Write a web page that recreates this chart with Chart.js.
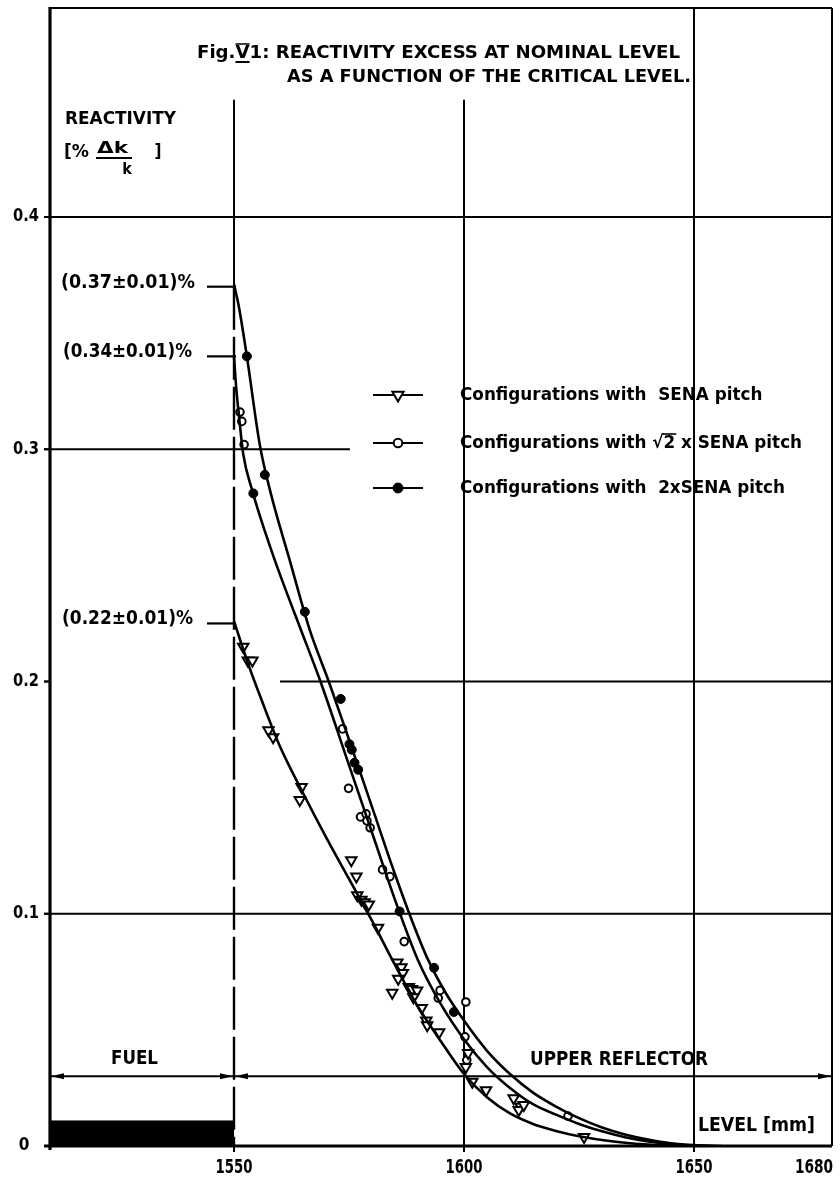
<!DOCTYPE html>
<html>
<head>
<meta charset="utf-8">
<script src="https://cdn.jsdelivr.net/npm/chart.js@4.4.1/dist/chart.umd.min.js"></script>
<style>
  html, body { margin: 0; padding: 0; background: #fff; }
  canvas { display: block; }
</style>
</head>
<body>
<canvas id="chart" width="840" height="1179"></canvas>
<script>
// ---- axes ----
const levelMin = 1510, levelMax = 1680;           // critical level [mm]
const reactMin = 0, reactMax = 0.49;              // reactivity [% dk/k]
const levelTicks = [1550, 1600, 1650, 1680];
const reactTicks = [0, 0.1, 0.2, 0.3, 0.4];
const reactTickLabels = ['0', '0.1', '0.2', '0.3', '0.4'];

// ---- fitted curves ----
const senaCurveLevel  = [1550, 1553, 1556, 1560, 1565, 1570, 1575, 1580, 1585, 1590, 1595, 1600, 1605, 1610, 1615, 1620, 1625, 1630, 1635, 1640, 1646];
const senaCurveReact  = [0.226, 0.208, 0.192, 0.172, 0.152, 0.133, 0.115, 0.097, 0.078, 0.060, 0.045, 0.031, 0.021, 0.014, 0.0095, 0.0065, 0.0042, 0.0026, 0.0014, 0.0006, 0];

const root2CurveLevel = [1550, 1550.5, 1551, 1552, 1554, 1557, 1560, 1564.6, 1568.8, 1575, 1580, 1585, 1590, 1595, 1600, 1605, 1610, 1615, 1620, 1625, 1630, 1635, 1640, 1645, 1652];
const root2CurveReact = [0.340, 0.326, 0.316, 0.298, 0.282, 0.263, 0.246, 0.222, 0.200, 0.164, 0.135, 0.106, 0.080, 0.061, 0.046, 0.034, 0.025, 0.018, 0.0135, 0.0095, 0.0063, 0.0038, 0.002, 0.0008, 0];

const twoCurveLevel   = [1550, 1551, 1552.8, 1555.6, 1558, 1562, 1566.5, 1570.6, 1575, 1580, 1585, 1588.7, 1592, 1596, 1600, 1605, 1610, 1615, 1620, 1625, 1630, 1635, 1640, 1645, 1650, 1656];
const twoCurveReact   = [0.371, 0.362, 0.340, 0.302, 0.281, 0.253, 0.222, 0.200, 0.175, 0.146, 0.117, 0.097, 0.081, 0.066, 0.054, 0.041, 0.031, 0.023, 0.017, 0.012, 0.008, 0.005, 0.0028, 0.0012, 0.0004, 0];

// ---- measured configurations ----
const senaLevel  = [1552, 1553, 1554, 1557.5, 1558.5, 1564.7, 1564.3, 1575.5, 1576.6, 1576.8, 1577.7, 1578.4, 1579.3, 1581.3,
                    1585.5, 1586.4, 1586.7, 1585.7, 1584.4, 1588, 1588.7, 1589.8, 1589, 1590.8, 1591.8, 1592, 1594.6,
                    1600.9, 1600.4, 1601.8, 1604.8, 1610.8, 1612.3, 1611.9, 1613, 1626.1];
const senaReact  = [0.215, 0.209, 0.209, 0.179, 0.176, 0.1546, 0.149, 0.123, 0.116, 0.108, 0.106, 0.105, 0.104, 0.094,
                    0.079, 0.077, 0.0745, 0.072, 0.066, 0.0685, 0.0676, 0.067, 0.064, 0.0594, 0.054, 0.052, 0.049,
                    0.040, 0.034, 0.0277, 0.024, 0.0206, 0.017, 0.0155, 0.0177, 0.0039];

const root2Level = [1551.3, 1551.7, 1552.2, 1573.6, 1574.9, 1577.5, 1578.7, 1578.9, 1579.6, 1582.3, 1583.9, 1587,
                    1594.4, 1594.8, 1600.4, 1600.2, 1600.6, 1622.6];
const root2React = [0.316, 0.312, 0.302, 0.1796, 0.154, 0.1417, 0.143, 0.140, 0.137, 0.119, 0.116, 0.088,
                    0.0637, 0.067, 0.062, 0.047, 0.037, 0.0129];

const twoLevel   = [1552.8, 1554.2, 1556.7, 1565.4, 1573.2, 1575.1, 1575.6, 1576.2, 1577, 1586, 1593.5, 1597.8];
const twoReact   = [0.340, 0.281, 0.289, 0.230, 0.1925, 0.173, 0.1706, 0.165, 0.162, 0.101, 0.0767, 0.0577];

// ---- extrapolated values at the fuel top ----
const excessValues = [0.37, 0.34, 0.225];
const excessLabels = ['(0.37\u00B10.01)%', '(0.34\u00B10.01)%', '(0.22\u00B10.01)%'];

// ---- fuel / reflector zones ----
const fuelFrom = 1510, fuelTo = 1550, fuelBarHeight = 0.011;
const zoneLineReact = 0.03;

const seriesNames = ['Configurations with  SENA pitch', 'Configurations with \u221A2 x SENA pitch', 'Configurations with  2xSENA pitch'];

// -------------------------------------------------------------------------
const FONT = '"Liberation Sans Narrow", "DejaVu Sans Condensed", "Liberation Sans", sans-serif';
const INK = '#000';

function pairs(xs, ys) { return xs.map((x, i) => ({ x: x, y: ys[i] })); }

// bold text, optionally squeezed or stretched to a given width
function txt(ctx, s, x, y, size, width, align) {
  ctx.font = 'bold ' + size + 'px ' + FONT;
  const w = ctx.measureText(s).width;
  const sx = width ? width / w : 1;
  ctx.save();
  ctx.translate(x, y);
  ctx.scale(sx, 1);
  ctx.textAlign = align || 'left';
  ctx.textBaseline = 'middle';
  ctx.fillStyle = INK;
  ctx.fillText(s, 0, 0);
  ctx.restore();
  return sx;
}

function line(ctx, x1, y1, x2, y2, w, dash) {
  ctx.save();
  ctx.strokeStyle = INK;
  ctx.lineWidth = w;
  ctx.setLineDash(dash || []);
  ctx.beginPath();
  ctx.moveTo(x1, y1);
  ctx.lineTo(x2, y2);
  ctx.stroke();
  ctx.restore();
}

function arrow(ctx, tipX, y, dir) {
  ctx.save();
  ctx.fillStyle = INK;
  ctx.beginPath();
  ctx.moveTo(tipX, y);
  ctx.lineTo(tipX - dir * 13, y - 3);
  ctx.lineTo(tipX - dir * 13, y + 3);
  ctx.closePath();
  ctx.fill();
  ctx.restore();
}

const markerStyles = [
  { pointStyle: 'triangle', rotation: 180, radius: 6, borderWidth: 2, backgroundColor: '#fff' },
  { pointStyle: 'circle', rotation: 0, radius: 3.8, borderWidth: 2, backgroundColor: '#fff' },
  { pointStyle: 'circle', rotation: 0, radius: 4.5, borderWidth: 1, backgroundColor: '#000' }
];

const framePlugin = {
  id: 'frame',
  beforeDraw(chart) {
    const ctx = chart.ctx;
    ctx.save();
    ctx.fillStyle = '#fff';
    ctx.fillRect(0, 0, chart.width, chart.height);
    ctx.restore();
  },
  beforeDatasetsDraw(chart) {
    const ctx = chart.ctx;
    const sx = chart.scales.x, sy = chart.scales.y;
    const X = v => sx.getPixelForValue(v), Y = v => sy.getPixelForValue(v);

    // fuel bar
    ctx.save();
    ctx.fillStyle = INK;
    ctx.fillRect(X(fuelFrom), Y(fuelBarHeight), X(fuelTo) - X(fuelFrom), Y(0) - Y(fuelBarHeight));
    ctx.restore();

    // horizontal grid
    line(ctx, X(1510) - 6, Y(0.4), X(1680), Y(0.4), 2);
    line(ctx, X(1510) - 6, Y(0.3), X(1575.2), Y(0.3), 1.8);
    line(ctx, X(1560), Y(0.2), X(1680), Y(0.2), 1.8);
    line(ctx, X(1510) - 6, Y(0.1), X(1680), Y(0.1), 1.8);
    line(ctx, X(1510) - 6, Y(0.2), X(1510), Y(0.2), 1.8);

    // vertical grid
    line(ctx, X(1550), Y(0.4505), X(1550), Y(0.37), 2);
    line(ctx, X(1550), Y(0.37), X(1550), Y(0), 2.4, [43, 7]);
    line(ctx, X(1600), Y(0.4505), X(1600), Y(0) + 6, 2);
    line(ctx, X(1650), Y(reactMax), X(1650), Y(0) + 6, 2);
    line(ctx, X(1550), Y(0), X(1550), Y(0) + 6, 2);

    // zone dimension line
    line(ctx, X(levelMin), Y(zoneLineReact), X(levelMax), Y(zoneLineReact), 2);
    arrow(ctx, X(levelMin) + 1, Y(zoneLineReact), -1);
    arrow(ctx, X(fuelTo) - 1, Y(zoneLineReact), 1);
    arrow(ctx, X(fuelTo) + 1, Y(zoneLineReact), -1);
    arrow(ctx, X(levelMax) - 1, Y(zoneLineReact), 1);

    // extrapolated excess leaders
    excessValues.forEach(v => line(ctx, X(1550) - 27, Y(v), X(1550) + 2, Y(v), 2.2));

    // frame
    const a = chart.chartArea;
    line(ctx, a.left, a.top, a.right, a.top, 2);
    line(ctx, a.right, a.top, a.right, a.bottom, 2);
    line(ctx, a.left, a.top - 1, a.left, a.bottom + 4, 3.2);
    line(ctx, a.left - 6, a.bottom, a.right, a.bottom, 3);
  },
  afterDraw(chart) {
    const ctx = chart.ctx;
    const sx = chart.scales.x, sy = chart.scales.y;
    const X = v => sx.getPixelForValue(v), Y = v => sy.getPixelForValue(v);

    // title
    const s1 = txt(ctx, 'Fig.V1: REACTIVITY EXCESS AT NOMINAL LEVEL', 197, 53, 18, 483, 'left');
    ctx.font = 'bold 18px ' + FONT;
    const vx = 197 + ctx.measureText('Fig.').width * s1;
    const vw = ctx.measureText('V').width * s1;
    line(ctx, vx, 62, vx + vw, 62, 2);
    line(ctx, vx, 44, vx + vw, 44, 1.5);
    txt(ctx, 'AS A FUNCTION OF THE CRITICAL LEVEL.', 691, 77, 18, 404, 'right');

    // y axis title
    txt(ctx, 'REACTIVITY', 65, 120, 17, 111, 'left');
    txt(ctx, '[%', 64, 153, 17, 25, 'left');
    txt(ctx, '\u0394k', 97, 149, 16, 31, 'left');
    line(ctx, 96, 158, 132, 158, 2);
    txt(ctx, 'k', 127, 170, 16, 0, 'center');
    txt(ctx, ']', 158, 153, 17, 0, 'center');

    // y ticks
    reactTicks.forEach((v, i) => {
      line(ctx, X(levelMin) - 6, Y(v), X(levelMin), Y(v), 2);
      if (reactTickLabels[i] === '0') txt(ctx, '0', 24, Y(v), 17, 0, 'center');
      else txt(ctx, reactTickLabels[i], 39, Y(v), 17, 26, 'right');
    });

    // x ticks
    levelTicks.forEach(v => {
      if (v === levelMax) txt(ctx, String(v), X(v) + 1, 1168, 19, 38, 'right');
      else txt(ctx, String(v), X(v), 1168, 19, 37, 'center');
    });

    // zone labels
    txt(ctx, 'FUEL', 111, 1059, 19, 47, 'left');
    txt(ctx, 'UPPER REFLECTOR', 530, 1060, 20, 178, 'left');
    txt(ctx, 'LEVEL [mm]', 698, 1126, 19, 117, 'left');

    // extrapolated excess labels
    const lx = [61, 63, 62], lw = [134, 129, 131];
    excessValues.forEach((v, i) => txt(ctx, excessLabels[i], lx[i], Y(v) - 4, 19, lw[i], 'left'));

    // legend
    const rowsY = [395, 443, 488];
    ctx.font = 'bold 18px ' + FONT;
    const legScale = 325 / ctx.measureText(seriesNames[2]).width;
    seriesNames.forEach((name, i) => {
      const y = rowsY[i];
      line(ctx, 373, y, 423, y, 2.2);
      const st = markerStyles[i];
      ctx.save();
      ctx.strokeStyle = INK; ctx.fillStyle = st.backgroundColor; ctx.lineWidth = st.borderWidth;
      Chart.helpers.drawPoint(ctx, { pointStyle: st.pointStyle, rotation: st.rotation, radius: st.radius + 0.5, borderWidth: st.borderWidth }, 398, y);
      ctx.restore();
      ctx.font = 'bold 18px ' + FONT;
      txt(ctx, name, 460, y, 18, ctx.measureText(name).width * legScale, 'left');
    });
    // overbar of the square root
    ctx.font = 'bold 18px ' + FONT;
    const pre = ctx.measureText('Configurations with \u221A').width * legScale;
    const two = ctx.measureText('2').width * legScale;
    line(ctx, 460 + pre - 1, 434, 460 + pre + two + 1, 434, 1.6);
  }
};

const curveStyle = {
  type: 'line', showLine: true, pointRadius: 0, borderColor: INK, borderWidth: 2.6,
  cubicInterpolationMode: 'monotone', fill: false
};

function markerSet(xs, ys, i) {
  const st = markerStyles[i];
  return {
    type: 'scatter', data: pairs(xs, ys), showLine: false,
    pointStyle: st.pointStyle, rotation: st.rotation, pointRadius: st.radius,
    pointBorderWidth: st.borderWidth, pointBorderColor: INK, pointBackgroundColor: st.backgroundColor
  };
}

new Chart(document.getElementById('chart'), {
  type: 'scatter',
  data: {
    datasets: [
      Object.assign({ data: pairs(senaCurveLevel, senaCurveReact) }, curveStyle),
      Object.assign({ data: pairs(root2CurveLevel, root2CurveReact) }, curveStyle),
      Object.assign({ data: pairs(twoCurveLevel, twoCurveReact) }, curveStyle),
      markerSet(senaLevel, senaReact, 0),
      markerSet(root2Level, root2React, 1),
      markerSet(twoLevel, twoReact, 2)
    ]
  },
  options: {
    responsive: false,
    animation: false,
    devicePixelRatio: 1,
    layout: { padding: { left: 50, right: 6, top: 8, bottom: 33 } },
    plugins: { legend: { display: false }, tooltip: { enabled: false }, title: { display: false } },
    scales: {
      x: { type: 'linear', min: levelMin, max: levelMax, display: false },
      y: { type: 'linear', min: reactMin, max: reactMax, display: false }
    }
  },
  plugins: [framePlugin]
});
</script>
</body>
</html>
